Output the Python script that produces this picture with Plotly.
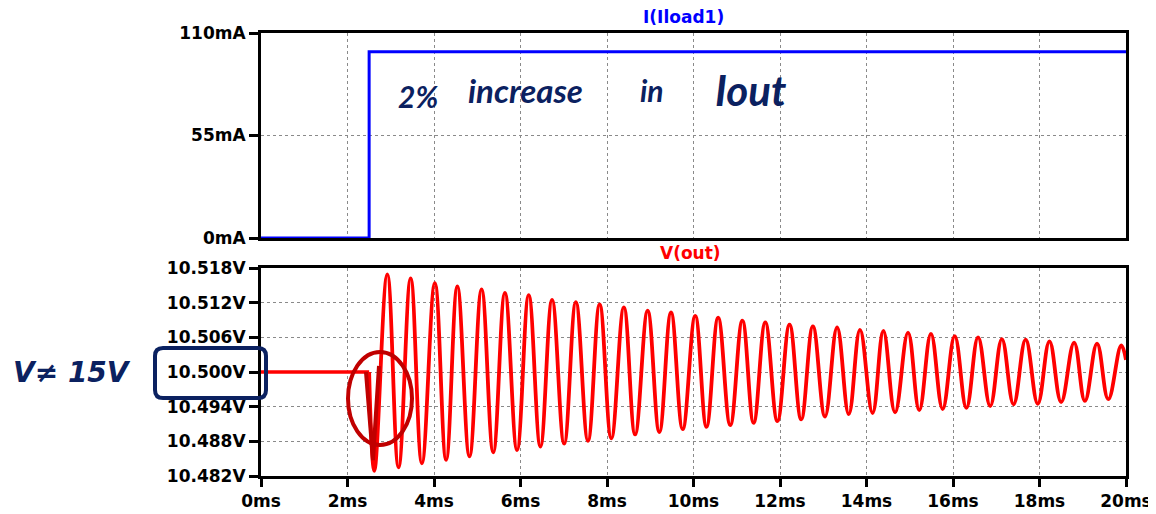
import plotly.graph_objects as go

# ---- data ----
# Top pane: load current I(Iload1) in mA (step at 2.5 ms)
i_t = [0.0, 2.5, 2.5, 20.0]
i_ma = [0.0, 0.0, 100.0, 100.0]

# Bottom pane: V(out) in volts
v_flat_t = [0.0, 2.5]
v_flat_v = [10.500, 10.500]

peak_t = [2.92, 3.46, 4.02, 4.54, 5.10, 5.64, 6.19, 6.73, 7.28, 7.83, 8.39,
          8.94, 9.48, 10.04, 10.57, 11.13, 11.66, 12.22, 12.76, 13.32, 13.85,
          14.39, 14.96, 15.49, 16.04, 16.58, 17.13, 17.68, 18.23, 18.80, 19.33, 19.89]
peak_v = [10.5169, 10.5162, 10.5154, 10.5148, 10.5143, 10.5137, 10.5133, 10.5125,
          10.5121, 10.5117, 10.5112, 10.5106, 10.5103, 10.5097, 10.5094, 10.5089,
          10.5086, 10.5082, 10.5079, 10.5077, 10.5073, 10.5071, 10.5068, 10.5066,
          10.5062, 10.5060, 10.5057, 10.5056, 10.5053, 10.5051, 10.5049, 10.5046]

trough_t = [2.62, 3.18, 3.72, 4.28, 4.82, 5.37, 5.92, 6.46, 7.01, 7.56, 8.10,
            8.65, 9.21, 9.75, 10.30, 10.85, 11.39, 11.94, 12.49, 13.04, 13.59, 14.14,
            14.66, 15.22, 15.76, 16.31, 16.86, 17.40, 17.96, 18.50, 19.05, 19.59]
trough_v = [10.4829, 10.4835, 10.4842, 10.4848, 10.4854, 10.4861, 10.4865, 10.4871,
            10.4876, 10.4881, 10.4885, 10.4892, 10.4896, 10.4901, 10.4905, 10.4908,
            10.4912, 10.4915, 10.4918, 10.4923, 10.4927, 10.4929, 10.4930, 10.4934,
            10.4936, 10.4938, 10.4941, 10.4944, 10.4945, 10.4948, 10.4950, 10.4953]

v_start = (2.5, 10.500)
v_end = (20.0, 10.5021)

x_ticks = [0, 2, 4, 6, 8, 10, 12, 14, 16, 18, 20]
i_ticks = [0, 55, 110]
v_ticks = [10.482, 10.488, 10.494, 10.500, 10.506, 10.512, 10.518]

# ---- build the oscillation trace from the read extrema ----
ext = sorted(list(zip(peak_t, peak_v)) + list(zip(trough_t, trough_v)))
osc_t = [v_start[0]] + [p[0] for p in ext] + [v_end[0]]
osc_v = [v_start[1]] + [p[1] for p in ext] + [v_end[1]]

FONT = "DejaVu Sans"
tickfont = dict(family=FONT, size=17, color="black", weight="bold")
INK = "#0b2160"
HAND = dict(family="Lato", size=30, color=INK, style="italic", weight="bold")

fig = go.Figure()
fig.add_trace(go.Scatter(x=i_t, y=i_ma, mode="lines", xaxis="x", yaxis="y",
                         line=dict(color="#0000ff", width=3), showlegend=False))
fig.add_trace(go.Scatter(x=v_flat_t, y=v_flat_v, mode="lines", xaxis="x2", yaxis="y2",
                         line=dict(color="#ff0000", width=3.5), showlegend=False))
fig.add_trace(go.Scatter(x=osc_t, y=osc_v, mode="lines", xaxis="x2", yaxis="y2",
                         line=dict(color="#ff0000", width=3.8, shape="spline", smoothing=1.15),
                         showlegend=False))

axis_common = dict(showline=True, linecolor="black", linewidth=3, mirror=True,
                   ticks="outside", ticklen=9, tickwidth=3, tickcolor="black",
                   showgrid=True, gridcolor="#8a8a8a", gridwidth=1, griddash="3px,3px",
                   zeroline=False, tickfont=tickfont)

# plot area in page pixels: x 261..1126, y 33..476 (page has an 8px body margin)


def px(xp):
    return (xp - 261) / 865.0


def py(yp):
    return (476 - yp) / 443.0


# rounded box path around the 10.500V label (paper coordinates)
bx0, bx1, by0, by1 = px(155), px(266), py(398), py(348)
rx, ry = 8 / 865.0, 8 / 443.0
box_path = (f"M {bx0 + rx},{by0} L {bx1 - rx},{by0} Q {bx1},{by0} {bx1},{by0 + ry} "
            f"L {bx1},{by1 - ry} Q {bx1},{by1} {bx1 - rx},{by1} "
            f"L {bx0 + rx},{by1} Q {bx0},{by1} {bx0},{by1 - ry} "
            f"L {bx0},{by0 + ry} Q {bx0},{by0} {bx0 + rx},{by0} Z")

# hand-drawn "V" stroke inside the red circle
v_path = f"M {px(366)},{py(372)} L {px(373)},{py(460)} L {px(379)},{py(366)}"


def note(text, x, y, font):
    return dict(text=text, xref="paper", yref="paper", x=px(x), y=py(y),
                xanchor="center", yanchor="middle", showarrow=False, font=font)


fig.update_layout(
    width=1148, height=506,
    margin=dict(l=253, r=30, t=25, b=38, autoexpand=False),
    paper_bgcolor="white", plot_bgcolor="white",
    xaxis=dict(axis_common, domain=[0, 1], range=[0, 20], tickvals=x_ticks,
               showticklabels=False, ticks="", anchor="y"),
    yaxis=dict(axis_common, domain=[0.5372, 1], range=[0, 110], tickvals=i_ticks,
               ticktext=[f"{v}mA" for v in i_ticks], anchor="x"),
    xaxis2=dict(axis_common, domain=[0, 1], range=[0, 20], tickvals=x_ticks, ticklen=8,
                ticktext=[f"{v}ms" for v in x_ticks], anchor="y2", matches="x"),
    yaxis2=dict(axis_common, domain=[0, 0.4695], range=[10.482, 10.518], tickvals=v_ticks,
                ticktext=[f"{v:.3f}V" for v in v_ticks], anchor="x2"),
    annotations=[
        note("I(Iload1)", 683, 17, dict(family=FONT, size=17, color="#0000ff", weight="bold")),
        note("V(out)", 690, 253, dict(family=FONT, size=17, color="#ff0000", weight="bold")),
        note("2%", 418, 96, HAND),
        note("increase", 525, 90, dict(HAND, size=33)),
        note("in", 652, 90, HAND),
        note("Iout", 750, 90, dict(HAND, size=42)),
        note("V≠ 15V", 72, 372, dict(family="DejaVu Sans", size=28, color=INK,
                                     style="italic", weight="bold")),
    ],
    shapes=[
        dict(type="path", xref="paper", yref="paper", path=box_path,
             line=dict(color=INK, width=4)),
        dict(type="circle", xref="paper", yref="paper", x0=px(348), x1=px(412),
             y0=py(445), y1=py(352), line=dict(color="#c00000", width=4)),
        dict(type="path", xref="paper", yref="paper", path=v_path,
             line=dict(color="#c00000", width=4)),
    ],
)

fig.write_html("out.html")
